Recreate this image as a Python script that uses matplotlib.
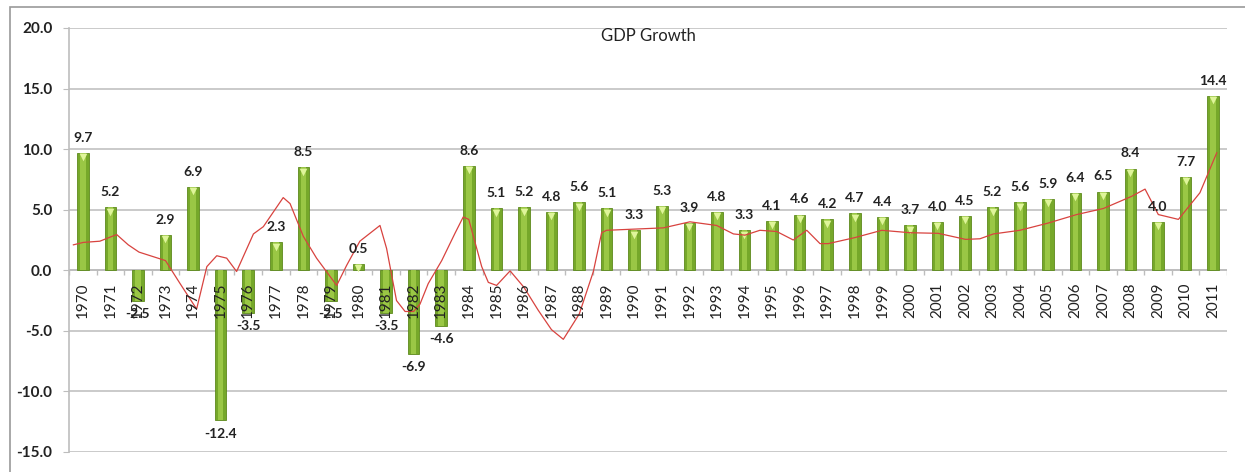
import matplotlib.pyplot as plt
from matplotlib.patches import Rectangle

# ---- data ----
years = list(range(1970, 2012))
growth = [9.7, 5.2, -2.5, 2.9, 6.9, -12.4, -3.5, 2.3, 8.5, -2.5,
          0.5, -3.5, -6.9, -4.6, 8.6, 5.1, 5.2, 4.8, 5.6, 5.1,
          3.3, 5.3, 3.9, 4.8, 3.3, 4.1, 4.6, 4.2, 4.7, 4.4,
          3.7, 4.0, 4.5, 5.2, 5.6, 5.9, 6.4, 6.5, 8.4, 4.0,
          7.7, 14.4]

# smoothed red trend line (x in category index units)
trend_x = [-0.34, 0.02, 0.62, 1.23, 1.65, 2.04, 3.0, 3.53, 4.13, 4.5,
           4.86, 5.22, 5.58, 6.19, 6.55, 7.27, 7.52, 8.0, 8.48, 9.21,
           9.57, 10.05, 10.78, 11.02, 11.38, 11.69, 12.0, 12.23, 12.53, 13.02,
           13.5, 13.8, 14.0, 14.47, 14.71, 15.01, 15.5, 16.0, 16.52, 17.0,
           17.43, 18.01, 18.52, 18.82, 19.0, 21.06, 22.02, 22.99, 23.6, 24.02,
           24.56, 25.17, 25.77, 26.26, 26.74, 27.04, 28.01, 28.98, 30.0, 31.03,
           32.02, 32.54, 33.03, 33.99, 35.02, 36.05, 37.02, 38.04, 38.53, 39.01,
           39.74, 40.52, 41.13]
trend_y = [2.1, 2.3, 2.4, 2.95, 2.1, 1.5, 0.8, -1.1, -3.2, 0.3,
           1.2, 1.0, -0.1, 3.0, 3.6, 6.0, 5.5, 2.8, 1.0, -1.25,
           0.4, 2.4, 3.7, 1.8, -2.5, -3.4, -3.4, -2.8, -1.1, 0.8,
           3.05, 4.4, 4.2, 0.3, -1.0, -1.25, -0.05, -1.4, -3.3, -4.9,
           -5.7, -3.6, -0.1, 3.1, 3.3, 3.5, 4.0, 3.7, 3.0, 2.9,
           3.3, 3.2, 2.5, 3.3, 2.2, 2.2, 2.7, 3.3, 3.1, 3.05,
           2.55, 2.6, 3.0, 3.3, 3.9, 4.6, 5.1, 6.1, 6.7, 4.6,
           4.2, 6.4, 9.7]

yticks = [20, 15, 10, 5, 0, -5, -10, -15]

plt.rcParams['font.family'] = ['Lato', 'DejaVu Sans']

fig = plt.figure(figsize=(12.45, 4.72), dpi=100)
ax = fig.add_axes([0.0554, 0.0424, 0.9301, 0.8983])

x = list(range(len(years)))

# grid
for t in yticks:
    ax.axhline(t, color='#c6c6c6', lw=1.3, zorder=0)

# bars (simple fake gradient: dark body + lighter core)
ax.bar(x, growth, width=0.42, color='#76a82a', edgecolor='#5d8a1c', lw=0.6, zorder=2)
ax.bar(x, growth, width=0.2, color='#a4d04c', lw=0, alpha=0.8, zorder=3)
pos_x = [i for i, v in zip(x, growth) if v > 0]
pos_v = [v - 0.35 for v in growth if v > 0]
ax.scatter(pos_x, pos_v, marker='v', s=30, color='#dff59a', zorder=4, lw=0)

# trend
ax.plot(trend_x, trend_y, color='#d8433f', lw=0.9, zorder=5)

# zero axis with tick marks
ax.axhline(0, color='#bdbdbd', lw=1.3, zorder=1)
ax.vlines([i + 0.5 for i in range(-1, len(years))], -0.35, 0, color='#bdbdbd', lw=1, zorder=1)

# year labels inside the plot, rotated
for i, yr in zip(x, years):
    ax.text(i, -1.05, str(yr), rotation=90, ha='center', va='top',
            fontsize=11, color='#222222', zorder=6)

# value labels
for i, v in zip(x, growth):
    if v >= 0:
        ax.text(i, v + 0.75, f'{v:.1f}', ha='center', va='bottom',
                fontsize=10, fontweight='bold', color='#222222', zorder=6)
    else:
        ax.text(i, v - 0.6, f'{v:.1f}', ha='center', va='top',
                fontsize=10, fontweight='bold', color='#222222', zorder=6)

ax.text(20.5, 19.3, 'GDP Growth', ha='center', va='center', fontsize=12, color='#222222')

ax.set_xlim(-0.5, len(years) - 0.5)
ax.set_ylim(-15, 20)
ax.set_xticks([])
ax.set_yticks(yticks)
ax.set_yticklabels([f'{t:.1f}' for t in yticks], fontsize=11, fontweight='bold', color='#222222')
ax.tick_params(axis='y', length=4, color='#bdbdbd', pad=8)
for s in ['top', 'right', 'bottom']:
    ax.spines[s].set_visible(False)
ax.spines['left'].set_color('#bdbdbd')
ax.spines['left'].set_linewidth(1.2)

# outer chart border
fig.patches.append(Rectangle((10 / 1245, -0.01), 1.1, 1 - 7 / 472 + 0.01,
                             transform=fig.transFigure, fill=False,
                             edgecolor='#9a9a9a', lw=1.2))

fig.savefig('out.png', dpi=100)
